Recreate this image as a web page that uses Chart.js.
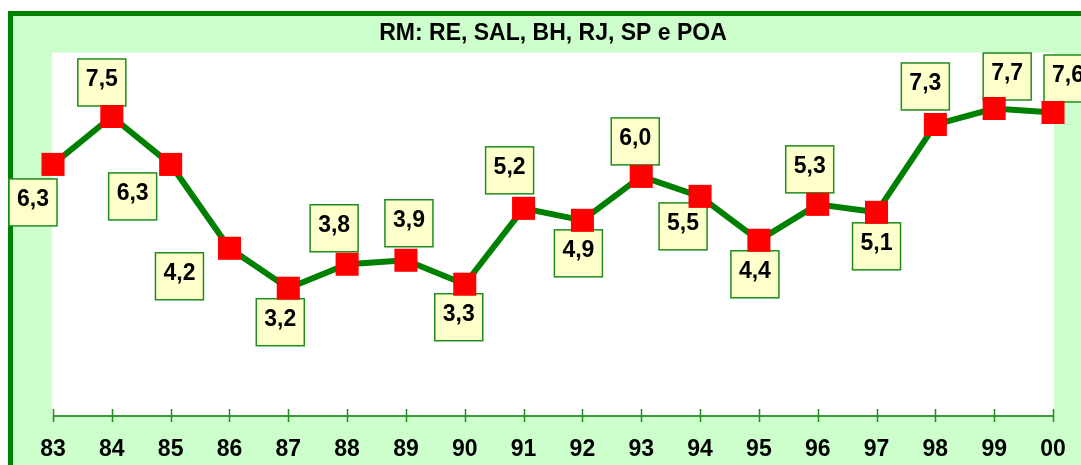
<!DOCTYPE html>
<html>
<head>
<meta charset="utf-8">
<script src="https://cdn.jsdelivr.net/npm/chart.js@4.4.0/dist/chart.umd.min.js"></script>
<style>
  body { margin: 0; background: #fff; }
  canvas { display: block; }
</style>
</head>
<body>
<canvas id="rmChart" width="1081" height="465"></canvas>
<script>
// data
const years = ['83','84','85','86','87','88','89','90','91','92','93','94','95','96','97','98','99','00'];
const rates = [6.3, 7.5, 6.3, 4.2, 3.2, 3.8, 3.9, 3.3, 5.2, 4.9, 6.0, 5.5, 4.4, 5.3, 5.1, 7.3, 7.7, 7.6];
const chartTitle = 'RM: RE, SAL, BH, RJ, SP e POA';

// where each value box sits relative to its point (dx, dy of box centre)
const labelOffsets = [
  [-20, 38], [-10, -34], [-38, 32], [-50, 28], [-8, 34], [-13, -36],
  [3, -37], [-6, 33], [-14, -38], [-4, 33], [-6, -35], [-17, 30],
  [-4, 34], [-8, -35], [0, 34], [-10, -38], [13, -32], [15, -34]
];

const FONT = 'Arial, "Liberation Sans", sans-serif';
const GREEN = '#008000';

// frame, light green surround and white plot area
const backdrop = {
  id: 'backdrop',
  beforeDraw(chart) {
    const { ctx, width, height, chartArea: a } = chart;
    ctx.save();
    ctx.fillStyle = '#ffffff';
    ctx.fillRect(0, 0, width, height);
    ctx.fillStyle = GREEN;
    ctx.fillRect(8, 11, width, height);
    ctx.fillStyle = '#CCFFCC';
    ctx.fillRect(13, 16, width, height);
    ctx.fillStyle = '#ffffff';
    ctx.fillRect(a.left - 1, a.top, a.right - a.left + 2, a.bottom - a.top);
    ctx.restore();
  }
};

// x axis line with ticks crossing it
const axisLine = {
  id: 'axisLine',
  beforeDatasetsDraw(chart) {
    const { ctx, chartArea: a, scales } = chart;
    const x = scales.x;
    ctx.save();
    ctx.strokeStyle = '#3c9a3c';
    ctx.lineWidth = 2;
    ctx.beginPath();
    ctx.moveTo(a.left, a.bottom);
    ctx.lineTo(a.right, a.bottom);
    ctx.stroke();
    ctx.strokeStyle = '#1e8c1e';
    ctx.lineWidth = 1.5;
    years.forEach((y, i) => {
      const px = Math.round(x.getPixelForValue(i)) + 0.5;
      ctx.beginPath();
      ctx.moveTo(px, a.bottom - 7);
      ctx.lineTo(px, a.bottom + 6);
      ctx.stroke();
    });
    ctx.restore();
  }
};

// yellow value boxes
const valueBoxes = {
  id: 'valueBoxes',
  beforeDatasetsDraw(chart) {
    const { ctx } = chart;
    const meta = chart.getDatasetMeta(0);
    ctx.save();
    ctx.font = 'bold 23px ' + FONT;
    ctx.textAlign = 'center';
    ctx.textBaseline = 'middle';
    meta.data.forEach((pt, i) => {
      const [dx, dy] = labelOffsets[i];
      const cx = pt.x + dx, cy = pt.y + dy;
      const w = 48, h = 47;
      ctx.fillStyle = '#FFFFCC';
      ctx.fillRect(cx - w / 2, cy - h / 2, w, h);
      ctx.strokeStyle = '#1e8c1e';
      ctx.lineWidth = 1.5;
      ctx.strokeRect(cx - w / 2, cy - h / 2, w, h);
      ctx.fillStyle = '#000';
      ctx.fillText(rates[i].toFixed(1).replace('.', ','), cx, cy - 3);
    });
    ctx.restore();
  }
};

new Chart(document.getElementById('rmChart').getContext('2d'), {
  type: 'line',
  data: {
    labels: years,
    datasets: [{
      data: rates,
      borderColor: GREEN,
      borderWidth: 6,
      tension: 0,
      pointStyle: 'rect',
      pointRadius: 16.3,
      pointBackgroundColor: '#FF0000',
      pointBorderColor: '#FF0000',
      pointBorderWidth: 0,
      clip: false
    }]
  },
  options: {
    responsive: false,
    animation: false,
    events: [],
    layout: { padding: { left: 53, right: 28, top: 0, bottom: 0 } },
    plugins: {
      legend: { display: false },
      tooltip: { enabled: false },
      title: {
        display: true,
        text: chartTitle,
        color: '#000',
        font: { family: FONT, size: 23, weight: 'bold' },
        padding: { top: 20, bottom: 5 }
      }
    },
    scales: {
      x: {
        offset: false,
        grid: { display: false },
        border: { display: false },
        ticks: {
          color: '#000',
          font: { family: FONT, size: 23, weight: 'bold' },
          padding: 12,
          maxRotation: 0,
          autoSkip: false
        },
        afterFit(s) { s.height = 49; }
      },
      y: {
        display: false,
        min: 0,
        max: 9.1
      }
    }
  },
  plugins: [backdrop, axisLine, valueBoxes]
});
</script>
</body>
</html>
